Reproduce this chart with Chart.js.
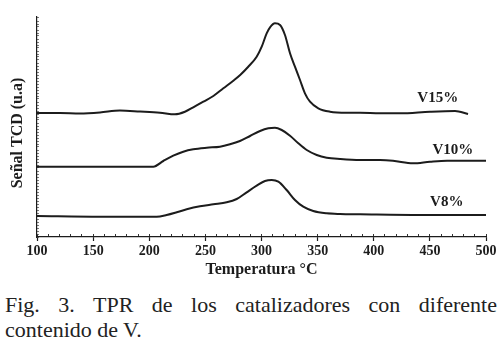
<!DOCTYPE html>
<html>
<head>
<meta charset="utf-8">
<script src="https://cdn.jsdelivr.net/npm/chart.js@4/dist/chart.umd.min.js"></script>
<style>
    html, body { margin: 0; padding: 0; background: #fff; }
    #wrap { position: relative; width: 503px; height: 346px; overflow: hidden; }
    #box { position: absolute; left: 0; top: 0; width: 503px; height: 285px; }
    #caption {
        position: absolute; left: 5px; top: 292px; width: 492px;
        font-family: "Liberation Serif", "DejaVu Serif", serif;
        font-size: 22px; line-height: 25px; color: #222;
    }
    #caption .l1 { text-align: justify; text-align-last: justify; }
</style>
</head>
<body>
<div id="wrap">
    <div id="box"><canvas id="c" width="503" height="285"></canvas></div>
    <div id="caption">
        <div class="l1">Fig. 3. TPR de los catalizadores con diferente</div>
        <div>contenido de V.</div>
    </div>
</div>
<script>
// ===============================
// Data (temperature °C, signal in arbitrary units)
// ===============================

const tempV15 = [100, 120.5, 138.3, 156.1, 173.9, 191.8, 209.6, 222.9, 231.8, 239.2, 248.2, 257.1, 266, 274.9, 281, 288, 295.7, 300.2, 304.6, 307.6, 312, 316.5, 320.9, 325.4, 329.8, 334.3, 338.7, 343.2, 350.6, 361, 375.9, 387.8, 405.6, 423.4, 450.1, 472.4, 484];
const sigV15 = [124, 124, 123.5, 124.5, 126.5, 125.5, 124.3, 122.7, 125.3, 129.7, 135.3, 141, 148.7, 156.3, 162, 170, 180.3, 190.3, 203.7, 209.7, 213.7, 212, 202, 183.7, 170.3, 157, 143.7, 135.3, 128.7, 125.3, 124.3, 124.3, 123.7, 123.7, 125.3, 126, 123];

const tempV10 = [100, 156.1, 203.6, 212.5, 221.4, 230.3, 239.2, 251.2, 263, 271.9, 280.8, 289.8, 298.7, 306.1, 312, 318, 325.4, 332.8, 340.3, 349.2, 358.1, 369.9, 387.8, 405.6, 417.1, 435, 450.1, 465.3, 500];
const sigV10 = [70.3, 70.3, 70.3, 76, 81.3, 85.3, 87.7, 89.3, 90.3, 92.7, 96, 101, 106, 108.7, 109.3, 107, 101.3, 93.7, 87, 82, 79.3, 78, 77, 77, 76.3, 73.7, 75.3, 76.3, 76.3];

const tempV8 = [100, 156.1, 191.8, 206.6, 215.5, 224.5, 233.4, 245.2, 257.1, 269, 277.9, 286.8, 295.7, 303.1, 309.1, 315, 322.4, 329.8, 337.2, 346.1, 358.1, 369.9, 387.8, 441.2, 500];
const sigV8 = [21, 20.3, 20.3, 20.3, 22, 24.7, 27.7, 30.7, 32.7, 34.7, 38, 44.7, 51.3, 56, 57, 55.3, 47, 37, 30.3, 26, 23.7, 23, 22.7, 22, 22];

const seriesNames = ["V15%", "V10%", "V8%"];
const nameTemp = [457, 470.5, 465];
const nameSig = [139, 87, 35];

const xTicks = [100, 150, 200, 250, 300, 350, 400, 450, 500];

const toPoints = (xs, ys) => xs.map((x, i) => ({ x, y: ys[i] }));

const serif = "'Liberation Serif', 'DejaVu Serif', serif";
const ink = "#1c1c1c";

// series names written next to each curve
const seriesLabels = {
    id: "seriesLabels",
    afterDatasetsDraw(chart) {
        const { ctx, scales } = chart;
        ctx.save();
        ctx.fillStyle = ink;
        ctx.font = "bold 15px " + serif;
        ctx.textAlign = "center";
        ctx.textBaseline = "middle";
        seriesNames.forEach((name, i) => {
            ctx.fillText(name, scales.x.getPixelForValue(nameTemp[i]), scales.y.getPixelForValue(nameSig[i]));
        });
        ctx.restore();
    }
};

const lineStyle = {
    borderColor: ink,
    borderWidth: 2,
    pointRadius: 0,
    fill: false,
    cubicInterpolationMode: "monotone"
};

new Chart(document.getElementById("c"), {
    type: "line",
    data: {
        datasets: [
            { label: seriesNames[0], data: toPoints(tempV15, sigV15), ...lineStyle },
            { label: seriesNames[1], data: toPoints(tempV10, sigV10), ...lineStyle },
            { label: seriesNames[2], data: toPoints(tempV8, sigV8), ...lineStyle }
        ]
    },
    options: {
        responsive: false,
        animation: false,
        events: [],
        layout: { padding: { top: 17, right: 17, left: 0, bottom: 0 } },
        plugins: {
            legend: { display: false },
            tooltip: { enabled: false }
        },
        scales: {
            // minor ticks pointing into the plot
            xm: {
                type: "linear",
                position: "bottom",
                weight: 0,
                min: 100,
                max: 500,
                afterFit: s => { s.height = 0; },
                ticks: { display: false, stepSize: 10, maxTicksLimit: 100 },
                border: { display: false },
                grid: { drawOnChartArea: false, tickLength: -3, tickColor: "#333", tickWidth: 1 }
            },
            x: {
                type: "linear",
                position: "bottom",
                weight: 1,
                min: 100,
                max: 500,
                afterFit: s => { s.height = 48; },
                afterBuildTicks: s => { s.ticks = xTicks.map(v => ({ value: v })); },
                ticks: {
                    color: ink,
                    padding: 2,
                    autoSkip: false,
                    maxRotation: 0,
                    font: { family: serif, size: 14, weight: "bold" }
                },
                border: { display: true, color: ink, width: 1.2 },
                grid: { drawOnChartArea: false, tickLength: 4, tickColor: ink, tickWidth: 1.2 },
                title: {
                    display: true,
                    text: "Temperatura °C",
                    color: ink,
                    padding: { top: 0, bottom: 6 },
                    font: { family: serif, size: 16, weight: "bold" }
                }
            },
            y: {
                type: "linear",
                position: "left",
                min: 0,
                max: 220,
                afterFit: s => { s.width = 37; },
                ticks: { display: false, stepSize: 3, maxTicksLimit: 100 },
                border: { display: true, color: ink, width: 1.2 },
                grid: { drawOnChartArea: false, tickLength: -2, tickColor: "#555", tickWidth: 0.8 },
                title: {
                    display: true,
                    // trailing spaces nudge the rotated label down a little
                    text: "Señal TCD (u.a)   ",
                    color: ink,
                    padding: { top: 8, bottom: 0 },
                    font: { family: serif, size: 16, weight: "bold" }
                }
            }
        }
    },
    plugins: [seriesLabels]
});
</script>
</body>
</html>
